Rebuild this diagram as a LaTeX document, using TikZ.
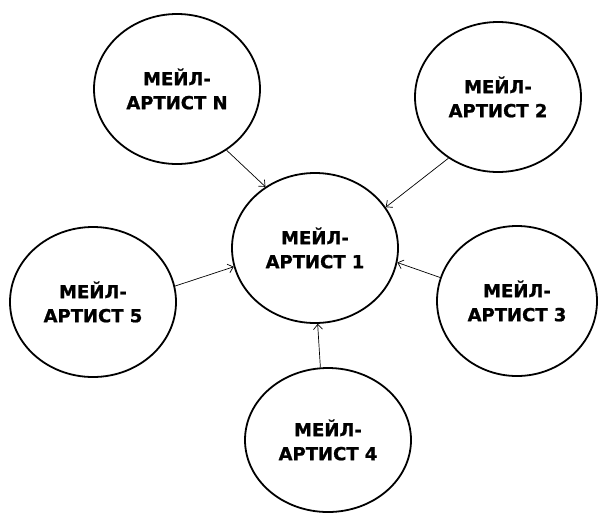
\documentclass[tikz,border=0pt]{standalone}
\usepackage{fontspec}
\setmainfont{DejaVu Sans}[BoldFeatures={FakeBold=1}]
\usetikzlibrary{shapes.geometric,arrows.meta}
\begin{document}
\begin{tikzpicture}[x=1pt,y=-1pt,
  artist/.style={ellipse,draw,line width=1.8pt,minimum width=166pt,minimum height=150pt,inner sep=0pt,align=center,font=\fontsize{18}{24}\selectfont\bfseries},
  link/.style={line width=0.7pt,-{Straight Barb[length=5pt,width=9pt]}}]
\useasboundingbox (0,0) rectangle (601,515);
\node[artist] (c) at (315,248) {МЕЙЛ-\\АРТИСТ 1};
\node[artist] (n) at (177,89) {МЕЙЛ-\\АРТИСТ N};
\node[artist] (a2) at (498,97) {МЕЙЛ-\\АРТИСТ 2};
\node[artist] (a5) at (93,302) {МЕЙЛ-\\АРТИСТ 5};
\node[artist,minimum width=160pt] (a3) at (517,301) {МЕЙЛ-\\АРТИСТ 3};
\node[artist,minimum height=144pt] (a4) at (328,440) {МЕЙЛ-\\АРТИСТ 4};
\draw[link] (n.-51) -- (c.129);
\draw[link] (a2.231) -- (c.30);
\draw[link] (a5.11) -- (c.193);
\draw[link] (a3.163) -- (c.-10);
\draw[link] (a4.96) -- (c.-88);
\end{tikzpicture}
\end{document}
